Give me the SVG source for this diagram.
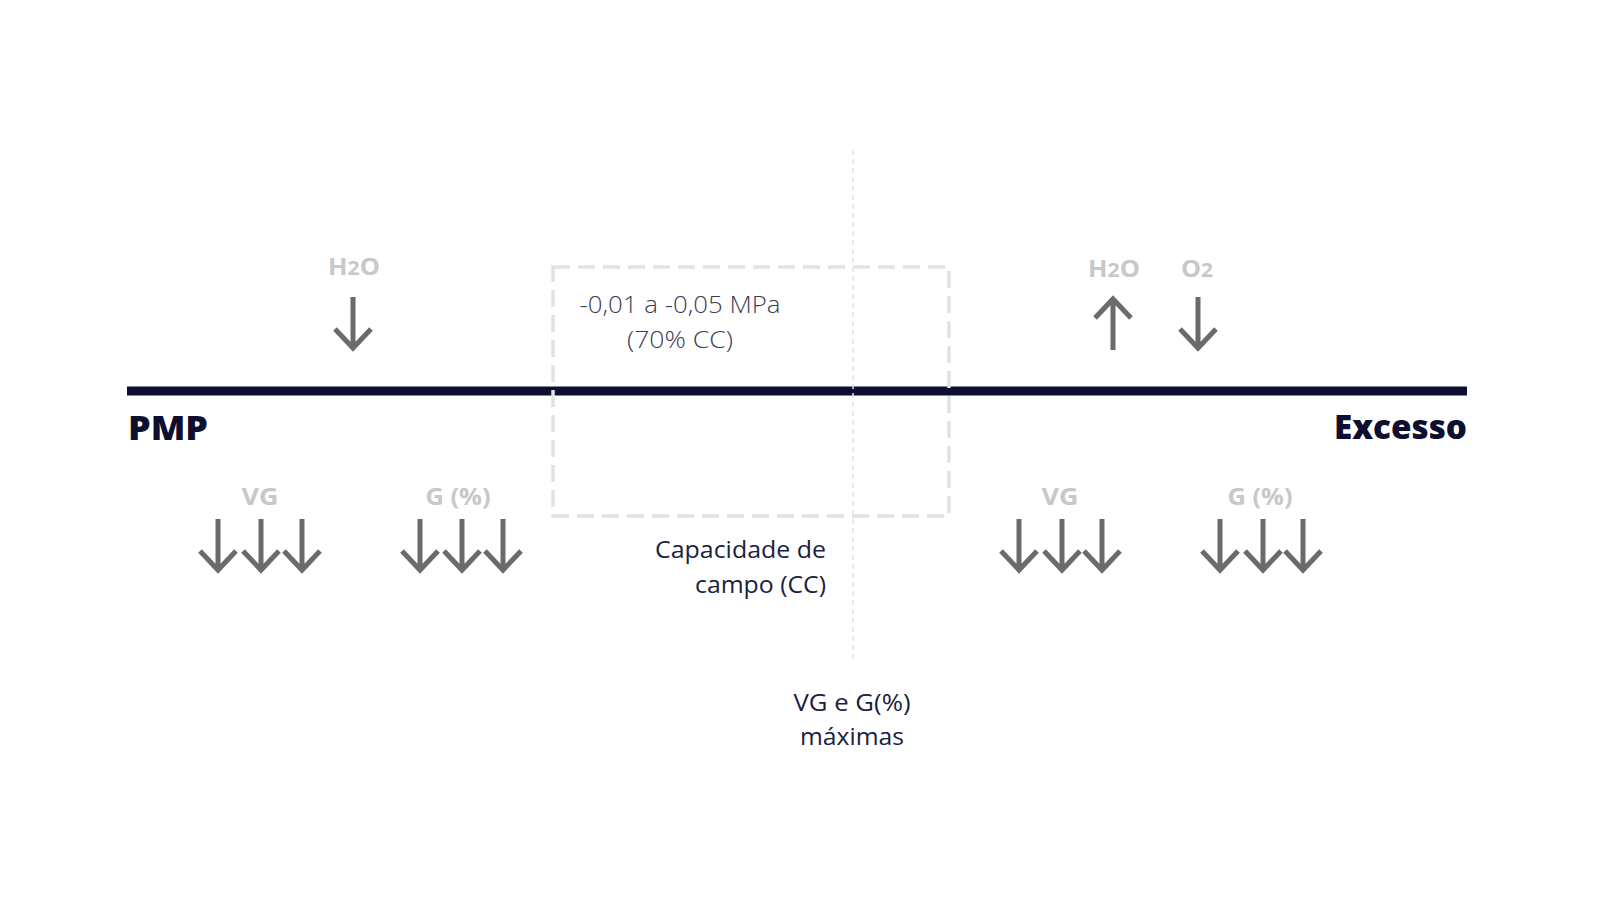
<svg xmlns="http://www.w3.org/2000/svg" width="1600" height="900" viewBox="0 0 1600 900">
<style>
.lbl{font-family:"Open Sans","Liberation Sans",sans-serif;font-weight:700;fill:#c8c8c8;font-size:24px;text-anchor:middle}
.big{font-family:"Open Sans","Liberation Sans",sans-serif;font-weight:800;fill:#0d0e30;font-size:34px}
.txt{font-family:"Open Sans","Liberation Sans",sans-serif;font-weight:400;fill:#1b1e3e;font-size:23px}
.thin{font-family:"Open Sans","Liberation Sans",sans-serif;font-weight:300;fill:#3a3e55;font-size:23px;text-anchor:middle}
.arr{fill:none;stroke:#6b6b6b;stroke-width:5}
</style>
<defs>
<g id="down"><path class="arr" d="M0,-26 V24 M-18,6 L0,25 L18,6"/></g>
<g id="up"><path class="arr" d="M0,26 V-24 M-18,-6 L0,-25 L18,-6"/></g>
</defs>
<rect width="1600" height="900" fill="#ffffff"/>
<g id="connectors">
<line x1="127" y1="391" x2="1467" y2="391" stroke="#0d0e30" stroke-width="9"/>
<line x1="853" y1="150" x2="853" y2="663" stroke="#e4e4e4" stroke-width="1.5" stroke-dasharray="5 4"/>
</g>
<g id="cc-box">
<rect x="553" y="267" width="396" height="249" fill="none" stroke="#e2e2e2" stroke-width="3.5" stroke-dasharray="17 8"/>
<text class="thin" x="680" y="313" textLength="201" lengthAdjust="spacingAndGlyphs">-0,01 a -0,05 MPa</text>
<text class="thin" x="680" y="348" textLength="106" lengthAdjust="spacingAndGlyphs">(70% CC)</text>
</g>
<g id="pmp"><text class="big" x="128" y="440" textLength="80" lengthAdjust="spacingAndGlyphs">PMP</text></g>
<g id="excesso"><text class="big" x="1334" y="439" textLength="133" lengthAdjust="spacingAndGlyphs">Excesso</text></g>
<g id="h2o-left">
<text class="lbl" x="354" y="275" textLength="52" lengthAdjust="spacingAndGlyphs">H<tspan font-size="20">2</tspan>O</text>
<use href="#down" x="353" y="323"/>
</g>
<g id="h2o-right">
<text class="lbl" x="1114" y="277" textLength="52" lengthAdjust="spacingAndGlyphs">H<tspan font-size="20">2</tspan>O</text>
<use href="#up" x="1113" y="324"/>
</g>
<g id="o2-right">
<text class="lbl" x="1197" y="277" textLength="32" lengthAdjust="spacingAndGlyphs">O<tspan font-size="20">2</tspan></text>
<use href="#down" x="1198" y="323"/>
</g>
<g id="vg-left">
<text class="lbl" x="260" y="505" textLength="37" lengthAdjust="spacingAndGlyphs">VG</text>
<use href="#down" x="218" y="545"/><use href="#down" x="261" y="545"/><use href="#down" x="302" y="545"/>
</g>
<g id="g-left">
<text class="lbl" x="458" y="505" textLength="65" lengthAdjust="spacingAndGlyphs">G (%)</text>
<use href="#down" x="420" y="545"/><use href="#down" x="462" y="545"/><use href="#down" x="503" y="545"/>
</g>
<g id="vg-right">
<text class="lbl" x="1060" y="505" textLength="37" lengthAdjust="spacingAndGlyphs">VG</text>
<use href="#down" x="1019" y="545"/><use href="#down" x="1062" y="545"/><use href="#down" x="1102" y="545"/>
</g>
<g id="g-right">
<text class="lbl" x="1260" y="505" textLength="65" lengthAdjust="spacingAndGlyphs">G (%)</text>
<use href="#down" x="1220" y="545"/><use href="#down" x="1263" y="545"/><use href="#down" x="1303" y="545"/>
</g>
<g id="cc-label">
<text class="txt" x="826" y="558" text-anchor="end" textLength="171" lengthAdjust="spacingAndGlyphs">Capacidade de</text>
<text class="txt" x="826" y="593" text-anchor="end" textLength="131" lengthAdjust="spacingAndGlyphs">campo (CC)</text>
</g>
<g id="max-label">
<text class="txt" x="852" y="711" text-anchor="middle" textLength="117" lengthAdjust="spacingAndGlyphs">VG e G(%)</text>
<text class="txt" x="852" y="745" text-anchor="middle" textLength="104" lengthAdjust="spacingAndGlyphs">máximas</text>
</g>
</svg>
